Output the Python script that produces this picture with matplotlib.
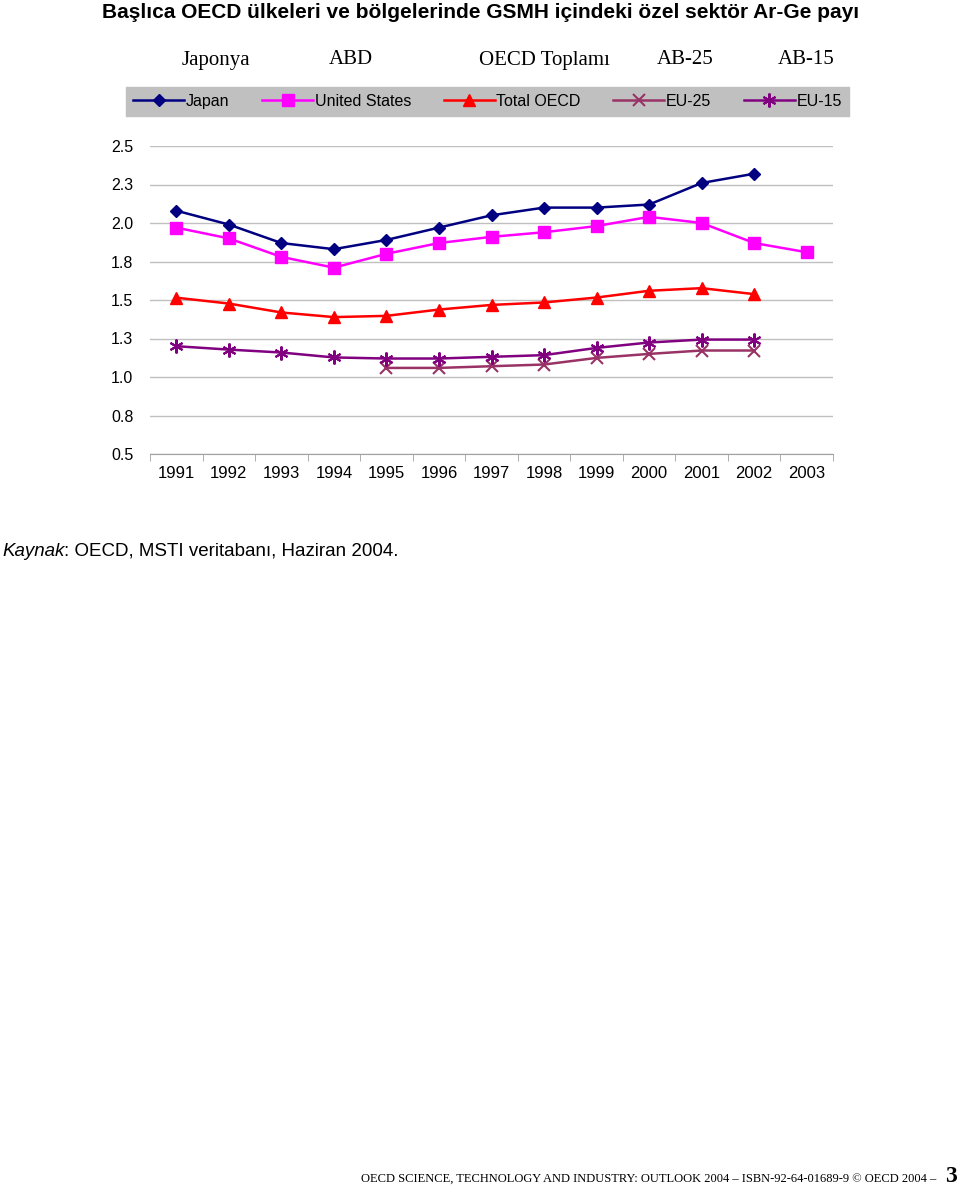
import numpy as np
import matplotlib
matplotlib.use("Agg")
import matplotlib.pyplot as plt

years = ["1991", "1992", "1993", "1994", "1995", "1996", "1997",
         "1998", "1999", "2000", "2001", "2002", "2003"]

# values (NaN = no data)
japan = [2.08, 1.99, 1.87, 1.83, 1.89, 1.97, 2.05, 2.10, 2.10, 2.12, 2.26, 2.32, np.nan]
usa = [1.97, 1.90, 1.78, 1.71, 1.80, 1.87, 1.91, 1.94, 1.98, 2.04, 2.00, 1.87, 1.81]
oecd = [1.515, 1.477, 1.419, 1.389, 1.397, 1.438, 1.468, 1.484, 1.516, 1.56, 1.577, 1.538, np.nan]
eu25 = [np.nan, np.nan, np.nan, np.nan, 1.059, 1.059, 1.07, 1.081, 1.124, 1.15, 1.172, 1.172, np.nan]
eu15 = [1.20, 1.178, 1.159, 1.127, 1.12, 1.12, 1.131, 1.142, 1.189, 1.224, 1.243, 1.243, np.nan]

series_names = ["Japan", "United States", "Total OECD", "EU-25", "EU-15"]
turkish_names = ["Japonya", "ABD", "OECD Toplamı", "AB-25", "AB-15"]
ytick_vals = [0.5, 0.75, 1.0, 1.25, 1.5, 1.75, 2.0, 2.25, 2.5]
ytick_labels = ["0.5", "0.8", "1.0", "1.3", "1.5", "1.8", "2.0", "2.3", "2.5"]

plt.rcParams['font.family'] = ['Liberation Sans', 'DejaVu Sans']

fig = plt.figure(figsize=(9.6, 11.87), dpi=100)
ax = fig.add_axes([150/960, 1 - 454/1187, 683/960, 308/1187])

x = np.arange(len(years))
styles = [
    dict(color="#000080", marker="D", ms=6.5),
    dict(color="#FF00FF", marker="s", ms=8.5),
    dict(color="#FF0000", marker="^", ms=9),
    dict(color="#993366", marker="x", ms=8, mew=1.5),
    dict(color="#800080", marker=(6, 2, 0), ms=10, mew=1.5),
]
handles = []
for vals, name, st in zip([japan, usa, oecd, eu25, eu15], series_names, styles):
    h, = ax.plot(x, vals, lw=1.8, label=name, zorder=3, **st)
    handles.append(h)

ax.set_xlim(-0.5, len(years) - 0.5)
ax.set_ylim(0.5, 2.5)
ax.set_yticks(ytick_vals)
ax.set_yticklabels(ytick_labels)
ax.set_xticks(x)
ax.set_xticklabels(years)
ax.set_xticks(np.arange(-0.5, len(years), 1.0), minor=True)
ax.tick_params(axis="x", which="major", length=0, pad=9, labelsize=12)
ax.tick_params(axis="x", which="minor", length=5, color="#A0A0A0", direction="out")
ax.tick_params(axis="y", length=0, pad=12, labelsize=11.5)
ax.grid(axis="y", color="#C0C0C0", lw=1)
ax.set_axisbelow(True)
for s in ["left", "right", "top"]:
    ax.spines[s].set_visible(False)
ax.spines["bottom"].set_color("#A0A0A0")

leg = fig.legend(handles=handles, loc="lower left", ncol=5, mode="expand",
                 bbox_to_anchor=(126/960, 1 - 116/1187, 723/960, 32/1187),
                 frameon=True, fancybox=False, facecolor="#C0C0C0",
                 edgecolor="#C0C0C0", framealpha=1, fontsize=11.5,
                 handlelength=3.2, handletextpad=0.1, borderaxespad=0,
                 borderpad=0.45)

tx = [216, 351, 544, 685, 806]
for t, xp in zip(turkish_names, tx):
    fig.text(xp/960, 1 - 60/1187, t, ha="center", va="center",
             fontsize=15, family="Liberation Serif")

fig.text(481/960, 1 - 13/1187,
         "Başlıca OECD ülkeleri ve bölgelerinde GSMH içindeki özel sektör Ar-Ge payı",
         ha="center", va="center", fontsize=15, fontweight="bold")

# source line: italic word followed by plain text on the same baseline
src_y = 1 - 556/1187
src = fig.text(2/960, src_y, "Kaynak", style="italic", fontsize=13.5,
               ha="left", va="baseline")
fig.canvas.draw()
bb = src.get_window_extent()
fig.text(bb.x1/fig.bbox.width, src_y, ": OECD, MSTI veritabanı, Haziran 2004.",
         fontsize=13.5, ha="left", va="baseline")

fig.text(936/960, 1 - 1179/1187,
         "OECD SCIENCE, TECHNOLOGY AND INDUSTRY: OUTLOOK 2004 – ISBN-92-64-01689-9 © OECD 2004 –",
         family="Liberation Serif", fontsize=9, ha="right", va="center")
fig.text(945/960, 1 - 1176/1187, "3", family="Liberation Serif", fontsize=17,
         fontweight="bold", ha="left", va="center")

fig.savefig("out.png", dpi=100)
